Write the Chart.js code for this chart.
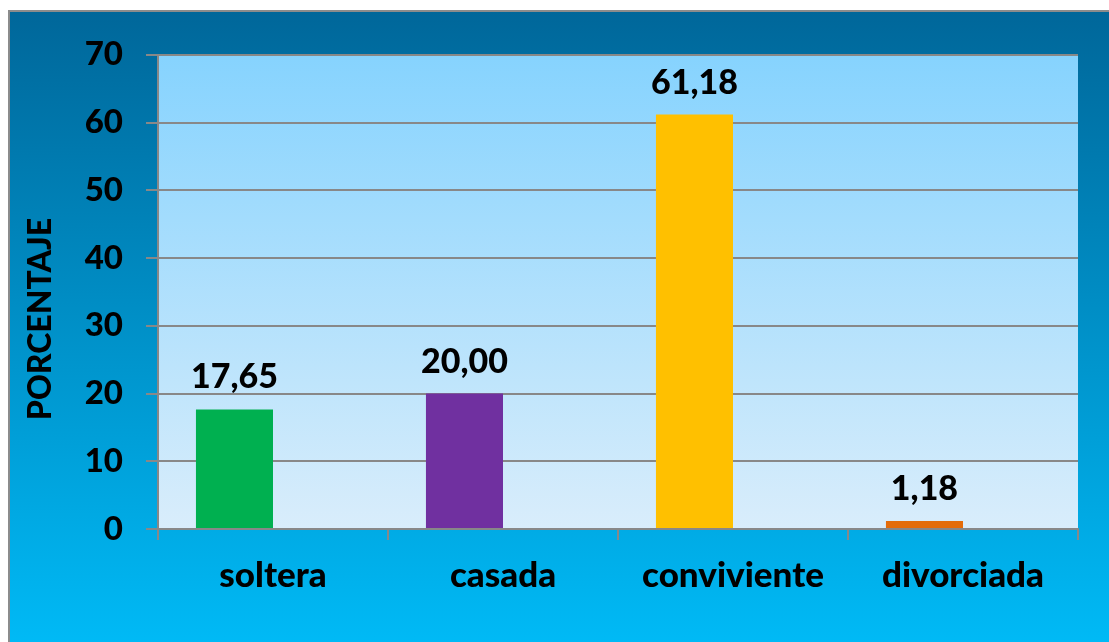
<!DOCTYPE html>
<html>
<head>
<meta charset="utf-8">
<script src="https://cdn.jsdelivr.net/npm/chart.js@4"></script>
<style>
body{margin:0;background:#fff;width:1109px;height:642px;overflow:hidden;position:relative;}
#frame{position:absolute;left:8px;top:10px;width:1110px;height:640px;border:2px solid #8c8c8c;background:linear-gradient(#00679a,#00bbf7);}
#grafico{position:absolute;left:0;top:0;}
</style>
</head>
<body>
<div id="frame"><canvas id="grafico" width="1099" height="630"></canvas></div>
<script>
// datos del grafico
const categorias = ["soltera", "casada", "conviviente", "divorciada"];
const porcentajes = [17.65, 20.00, 61.18, 1.18];
const vacio = [null, null, null, null];
const colores = ["#00b050", "#7030a0", "#ffc000", "#e46c0a"];
const tituloY = "PORCENTAJE";

const fuente = "Lato, 'Open Sans', sans-serif";

// fondo del area de trazado
const fondoArea = {
	id: "fondoArea",
	beforeDraw(chart){
		const a = chart.chartArea;
		const ctx = chart.ctx;
		const g = ctx.createLinearGradient(0, a.top, 0, a.bottom);
		g.addColorStop(0, "#86d3fe");
		g.addColorStop(1, "#d9edfb");
		ctx.save();
		ctx.fillStyle = g;
		ctx.fillRect(a.left, a.top, a.right - a.left, a.bottom - a.top);
		ctx.restore();
	}
};

// etiquetas de valor encima de cada barra
const etiquetas = {
	id: "etiquetas",
	afterDatasetsDraw(chart){
		const ctx = chart.ctx;
		const meta = chart.getDatasetMeta(0);
		ctx.save();
		ctx.font = "900 34px " + fuente;
		ctx.fillStyle = "#000";
		ctx.textAlign = "center";
		ctx.textBaseline = "alphabetic";
		meta.data.forEach((bar, i) => {
			const txt = porcentajes[i].toFixed(2).replace(".", ",");
			ctx.fillText(txt, bar.x, bar.y - 21);
		});
		ctx.restore();
	}
};

// titulo del eje vertical
const tituloEje = {
	id: "tituloEje",
	afterDraw(chart){
		const ctx = chart.ctx;
		ctx.save();
		ctx.translate(31, 307);
		ctx.rotate(-Math.PI / 2);
		ctx.font = "900 32px " + fuente;
		ctx.fillStyle = "#000";
		ctx.textAlign = "center";
		ctx.textBaseline = "middle";
		ctx.fillText(tituloY, 0, 0);
		ctx.restore();
	}
};

const ctx = document.getElementById("grafico").getContext("2d");

new Chart(ctx, {
	type: "bar",
	data: {
		labels: categorias,
		datasets: [
			{
				data: porcentajes,
				backgroundColor: colores,
				borderWidth: 0,
				categoryPercentage: 0.67,
				barPercentage: 1.0,
			},
			{
				data: vacio,
				backgroundColor: "transparent",
				categoryPercentage: 0.67,
				barPercentage: 1.0,
			}
		]
	},
	options: {
		responsive: false,
		animation: false,
		layout: { padding: { top: 41, right: 31, left: 0, bottom: 0 } },
		plugins: {
			legend: { display: false },
			tooltip: { enabled: false }
		},
		scales: {
			x: {
				grid: {
					offset: true,
					drawOnChartArea: false,
					drawTicks: true,
					tickLength: 11,
					color: "#888",
					lineWidth: 2
				},
				border: { color: "#888", width: 2 },
				ticks: {
					color: "#000",
					font: { family: fuente, size: 35, weight: "900" },
					padding: 15
				},
				afterFit(scale){ scale.height = 113; }
			},
			y: {
				min: 0,
				max: 70,
				grid: {
					color: "#888",
					lineWidth: 2,
					tickLength: 12
				},
				border: { color: "#888", width: 2 },
				ticks: {
					stepSize: 10,
					color: "#000",
					font: { family: fuente, size: 33, weight: "900" },
					padding: 23
				},
				afterFit(scale){ scale.width = 148; }
			}
		}
	},
	plugins: [fondoArea, etiquetas, tituloEje]
});
</script>
</body>
</html>
